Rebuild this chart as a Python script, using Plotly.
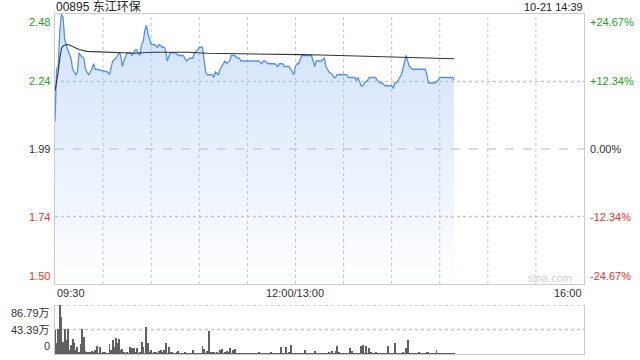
import plotly.graph_objects as go

W, H = 640, 360
PREV_CLOSE = 1.99
Y_MIN, Y_MAX = 1.4991, 2.4809

# ---- data ----
price_min = [0, 1, 2, 3, 4, 5, 6, 7, 8, 10, 11, 13, 14, 15, 16, 18, 19, 20, 21, 23, 24, 25, 26, 33, 34,
             36, 38, 39, 40, 41, 42, 43, 45, 47, 48, 49, 50, 51, 52, 53, 54, 55, 56, 57, 58, 59, 60,
             62, 64, 65, 67, 68, 69, 70, 72, 73, 75, 77, 78, 80, 82, 84, 86, 87, 89, 90, 92, 93, 94,
             95, 97, 98, 99, 100, 102, 103, 104, 105, 106, 107, 109, 110, 111, 112, 114, 115, 116,
             127, 129, 130, 131, 133, 137, 139, 140, 142, 143, 145, 146, 147, 148, 149, 150, 151,
             152, 154, 160, 162, 163, 165, 166, 168, 169, 170, 171, 173, 174, 175, 176, 178, 181,
             182, 183, 187, 188, 189, 191, 192, 193, 195, 196, 200, 201, 203, 204, 206, 210, 211,
             212, 213, 214, 216, 217, 218, 219, 220, 221, 223, 231, 232, 233, 234, 237, 239, 240,
             248, 249]
price_val = [2.09, 2.28, 2.29, 2.42, 2.48, 2.47, 2.39, 2.37, 2.35, 2.32, 2.28, 2.26, 2.27, 2.34, 2.33,
             2.32, 2.28, 2.27, 2.26, 2.28, 2.30, 2.28, 2.28, 2.27, 2.26,
             2.31, 2.32, 2.33, 2.34, 2.33, 2.29, 2.31, 2.34, 2.34, 2.33, 2.34, 2.35, 2.35, 2.34,
             2.33, 2.37, 2.38, 2.42, 2.44, 2.41, 2.39, 2.37,
             2.37, 2.36, 2.37, 2.36, 2.36, 2.35, 2.31, 2.34, 2.34, 2.34, 2.33, 2.33, 2.33, 2.31,
             2.32, 2.32, 2.34, 2.35, 2.36, 2.36, 2.31, 2.27,
             2.26, 2.26, 2.26, 2.25, 2.27, 2.26, 2.28, 2.29, 2.30, 2.31, 2.30, 2.31, 2.33, 2.33,
             2.33, 2.32, 2.32, 2.31,
             2.31, 2.30, 2.31, 2.31, 2.30, 2.30, 2.29, 2.30, 2.30, 2.29, 2.29, 2.29, 2.28, 2.27,
             2.26, 2.29, 2.30,
             2.30, 2.33, 2.33, 2.29, 2.31, 2.31, 2.31, 2.32, 2.29, 2.28, 2.27, 2.26, 2.25, 2.25,
             2.26, 2.26, 2.26,
             2.26, 2.25, 2.25, 2.24, 2.25, 2.22, 2.22, 2.23, 2.24, 2.25, 2.25, 2.24, 2.23, 2.23,
             2.22, 2.22, 2.21,
             2.23, 2.23, 2.24, 2.26, 2.28, 2.31, 2.33, 2.31, 2.29, 2.28, 2.28, 2.26, 2.23, 2.23,
             2.23, 2.24, 2.25,
             2.25, 2.24]

avg_min = [0, 1, 2, 3, 4, 5, 7, 9, 11, 15, 20, 30, 40, 50, 60, 70, 83, 95, 103, 123, 144, 153, 166,
           190, 198, 219, 249]
avg_val = [2.20, 2.23, 2.27, 2.32, 2.355, 2.365, 2.37, 2.368, 2.362, 2.352, 2.345, 2.342, 2.339,
           2.338, 2.342, 2.342, 2.342, 2.338, 2.337, 2.334, 2.333, 2.333, 2.332, 2.328, 2.325,
           2.321, 2.318]

# volume per minute, in 万 (minutes 0..249)
volume = [
    42, 19, 45, 86.79, 66, 22, 45, 25, 44, 7,
    16, 26, 19, 7, 13, 3, 18, 44, 31, 6,
    2, 4, 3, 6, 4, 7, 14, 1, 13, 1,
    2, 4, 0.5, 1, 18, 7, 25, 13, 28, 19,
    26, 7, 8, 2, 1, 4, 1, 12, 10, 10,
    2, 10, 1, 2, 22, 12, 1, 48, 19, 4,
    7, 1, 4, 2, 1, 6, 7, 4, 7, 20,
    1, 12, 2, 4, 1, 1, 2, 6, 1, 1,
    1, 2, 1, 1, 1, 1, 7, 1, 1, 1,
    1, 1, 14, 8, 1, 6, 40, 2, 4, 2,
    1, 4, 1, 7, 8, 1, 4, 6, 4, 10,
    1, 7, 8, 1, 1, 1, 1, 1, 1, 1,
    1, 1, 1, 1, 1, 1, 1, 4, 1, 1,
    1, 1, 1, 1, 1, 4, 1, 1, 1, 1,
    1, 13, 1, 1, 13, 1, 2, 16, 1, 1,
    1, 1, 1, 1, 1, 1, 7, 1, 1, 1,
    1, 1, 6, 1, 1, 1, 1, 1, 1, 1,
    1, 4, 1, 6, 1, 6, 14, 2, 1, 1,
    1, 1, 1, 1, 10, 6, 1, 1, 1, 1,
    1, 14, 16, 1, 14, 1, 10, 4, 1, 1,
    2, 1, 1, 1, 1, 1, 1, 1, 14, 1,
    1, 1, 20, 1, 1, 1, 1, 4, 1, 11,
    24, 1, 1, 1, 1, 1, 1, 4, 1, 1,
    1, 1, 4, 4, 1, 1, 1, 1, 7, 1,
    1, 1, 1, 1, 1, 1, 1, 1, 1, 1,
]
vol_min = list(range(len(volume)))
VOL_MAX = 86.79

left_labels = ["2.48", "2.24", "1.99", "1.74", "1.50"]
left_vals = [2.4809, 2.2355, 1.99, 1.7445, 1.4991]
right_labels = ["+24.67%", "+12.34%", "0.00%", "-12.34%", "-24.67%"]
label_colors = ["#1aa01a", "#1aa01a", "#333333", "#e8322d", "#e8322d"]
vol_labels = ["86.79万", "43.39万", "0"]
vol_vals = [86.79, 43.39, 0]
x_labels = ["09:30", "12:00/13:00", "16:00"]
x_label_pos = [0, 150, 330]
grid_min = [30, 60, 90, 120, 150, 180, 210, 240, 270, 300]
grid_price = [2.2355, 1.7445]
grid_vol = [43.39, 86.79]

FONT = "Liberation Sans, Arial, Noto Sans CJK SC, sans-serif"
GRID = "#c4c4c4"

def px_x(p):
    return p / W

def px_y(p):
    return 1 - p / H

fig = go.Figure()

fig.add_trace(go.Scatter(
    x=price_min, y=price_val, mode="lines",
    line=dict(color="#5390ea", width=1.3),
    fill="tozeroy",
    fillgradient=dict(type="vertical", start=Y_MIN, stop=Y_MAX,
                      colorscale=[[0, "rgba(160,195,245,0)"], [1, "rgba(160,195,245,0.5)"]]),
    xaxis="x", yaxis="y", hoverinfo="skip", showlegend=False))

fig.add_trace(go.Scatter(
    x=avg_min, y=avg_val, mode="lines",
    line=dict(color="#333333", width=1.1),
    xaxis="x", yaxis="y", hoverinfo="skip", showlegend=False))

fig.add_trace(go.Bar(
    x=vol_min, y=volume, width=0.6, marker=dict(color="#606060", line=dict(width=0)),
    xaxis="x2", yaxis="y2", hoverinfo="skip", showlegend=False))

xdom = [px_x(55), px_x(584)]
common = dict(showticklabels=False, showgrid=False, showline=True, linecolor="#cccccc",
              linewidth=1, zeroline=False, ticks="", fixedrange=True)
fig.update_layout(
    width=W, height=H, margin=dict(l=0, r=0, t=0, b=0),
    paper_bgcolor="white", plot_bgcolor="rgba(0,0,0,0)",
    font=dict(family=FONT, size=11, color="#333"),
    bargap=0,
    xaxis=dict(domain=xdom, range=[0, 330], mirror=True, **common),
    yaxis=dict(domain=[px_y(284), px_y(14)], range=[Y_MIN, Y_MAX], mirror=True, **common),
    xaxis2=dict(domain=xdom, range=[0, 330], anchor="y2", **common),
    yaxis2=dict(domain=[px_y(354), px_y(305)], range=[0, VOL_MAX], anchor="x2", mirror=True,
                **common),
)

for m in grid_min:
    fig.add_shape(type="line", xref="x", yref="y", x0=m, x1=m, y0=Y_MIN, y1=Y_MAX,
                  line=dict(color=GRID, width=1, dash="dot"), layer="between")
for v in grid_price:
    fig.add_shape(type="line", xref="x", yref="y", x0=0, x1=330, y0=v, y1=v,
                  line=dict(color=GRID, width=1.3, dash="dot"), layer="between")
fig.add_shape(type="line", xref="x", yref="y", x0=0, x1=330, y0=PREV_CLOSE, y1=PREV_CLOSE,
              line=dict(color="#b8b8b8", width=1, dash="dash"), layer="between")
for v in grid_vol:
    fig.add_shape(type="line", xref="x2", yref="y2", x0=0, x1=330, y0=v, y1=v,
                  line=dict(color=GRID, width=1.3, dash="dot"), layer="between")

ann = []
for i, (lab, v, c) in enumerate(zip(left_labels, left_vals, label_colors)):
    ya = "top" if i == 0 else ("bottom" if i == len(left_labels) - 1 else "middle")
    ann.append(dict(text=lab, x=px_x(52), xref="paper", y=v, yref="y",
                    xanchor="right", yanchor=ya, showarrow=False,
                    font=dict(size=11, color=c, family=FONT)))
    ann.append(dict(text=right_labels[i], x=px_x(588), xref="paper", y=v, yref="y",
                    xanchor="left", yanchor=ya, showarrow=False,
                    font=dict(size=11, color=c, family=FONT)))

for i, (lab, v) in enumerate(zip(vol_labels, vol_vals)):
    ya = "top" if i == 0 else ("bottom" if i == len(vol_labels) - 1 else "middle")
    ann.append(dict(text=lab, x=px_x(52), xref="paper", y=v, yref="y2",
                    xanchor="right", yanchor=ya, showarrow=False,
                    font=dict(size=11, color="#333", family=FONT)))

for i, (lab, m) in enumerate(zip(x_labels, x_label_pos)):
    xa = "left" if i == 0 else ("right" if i == len(x_labels) - 1 else "center")
    ann.append(dict(text=lab, x=m, xref="x", y=px_y(293), yref="paper",
                    xanchor=xa, yanchor="middle", showarrow=False,
                    font=dict(size=11, color="#333", family=FONT)))

ann.append(dict(text="00895 东江环保", x=px_x(54), xref="paper", y=px_y(6.5), yref="paper",
                xanchor="left", yanchor="middle", showarrow=False,
                font=dict(size=12, color="#222", family=FONT)))
ann.append(dict(text="10-21 14:39", x=px_x(585), xref="paper", y=px_y(6.5), yref="paper",
                xanchor="right", yanchor="middle", showarrow=False,
                font=dict(size=11, color="#222", family=FONT)))
ann.append(dict(text="sina.com", x=px_x(574), xref="paper", y=px_y(278), yref="paper",
                xanchor="right", yanchor="middle", showarrow=False,
                font=dict(size=11, color="#cfcfcf", family=FONT)))

fig.update_layout(annotations=ann)

fig.write_html("out.html", config={"displayModeBar": False})
